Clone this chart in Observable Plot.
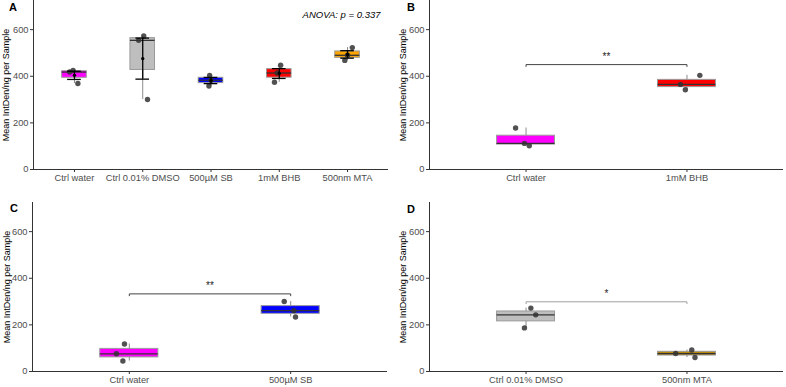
<!DOCTYPE html>
<html>
<head>
<meta charset="utf-8">
<script src="https://cdn.jsdelivr.net/npm/d3@7"></script>
<script src="https://cdn.jsdelivr.net/npm/@observablehq/plot@0.6"></script>
<style>
  html, body { margin: 0; padding: 0; background: #fff; }
  #fig { position: relative; width: 786px; height: 387px; font-family: "Liberation Sans", Arial, sans-serif; }
  .panel { position: absolute; }
  .tag { position: absolute; font-weight: bold; font-size: 11px; color: #000; line-height: 1; }
</style>
</head>
<body>
<div id="fig"></div>
<script>
// Panel A: all five treatments
const groupsA = ["Ctrl water", "Ctrl 0.01% DMSO", "500µM SB", "1mM BHB", "500nm MTA"];
const valuesA = [[418, 425, 369], [554, 573, 300], [404, 358, 383], [447, 374, 414], [523, 468, 490]];
const jitterA = [[-0.07, -0.02, 0.05], [-0.06, 0.015, 0.07], [-0.02, -0.03, 0.0], [0.02, -0.07, -0.03], [0.07, -0.04, 0.0]];
const colorsA = ["#FF00FF", "#BEBEBE", "#0000FF", "#FF0000", "#FFA500"];
const anovaLabel = "ANOVA: p = 0.337";

// Panel B: water vs BHB
const groupsB = ["Ctrl water", "1mM BHB"];
const valuesB = [[178, 112, 102], [365, 342, 404]];
const jitterB = [[-0.065, -0.01, 0.02], [-0.04, -0.01, 0.08]];
const colorsB = ["#FF00FF", "#FF0000"];
const bracketB = {y: 450, label: "**"};

// Panel C: water vs SB
const groupsC = ["Ctrl water", "500µM SB"];
const valuesC = [[118, 76, 45], [300, 261, 234]];
const jitterC = [[-0.03, -0.08, -0.04], [-0.04, 0.02, 0.03]];
const colorsC = ["#FF00FF", "#0000FF"];
const bracketC = {y: 333, label: "**"};

// Panel D: DMSO vs MTA
const groupsD = ["Ctrl 0.01% DMSO", "500nm MTA"];
const valuesD = [[272, 243, 187], [77, 92, 60]];
const jitterD = [[0.03, 0.06, -0.01], [-0.07, 0.03, 0.05]];
const colorsD = ["#BEBEBE", "#B8860B"];
const bracketD = {y: 299, label: "*", stroke: "#a0a0a0"};

const yTicks = [0, 200, 400, 600];
const yTitle = "Mean IntDen/ng per Sample";
const FONT = "'Liberation Sans', Arial, sans-serif";

function summarize(groups, values, colors) {
  return groups.map((g, i) => {
    const v = values[i].slice().sort(d3.ascending);
    const mean = d3.mean(v);
    const se = d3.deviation(v) / Math.sqrt(v.length);
    return {
      pos: i + 1, group: g, color: colors[i],
      q1: d3.quantile(v, 0.25), med: d3.quantile(v, 0.5), q3: d3.quantile(v, 0.75),
      min: d3.min(v), max: d3.max(v), mean, lo: mean - se, hi: mean + se
    };
  });
}

function panel(opts) {
  const {groups, values, jitter, colors, width, height, margin, showMean, bracket, note} = opts;
  const n = groups.length;
  const stats = summarize(groups, values, colors);
  const points = values.flatMap((vs, i) => vs.map((v, j) => ({pos: i + 1, jit: jitter[i][j], v})));
  const half = 0.18;

  const marks = [
    Plot.axisY({ticks: yTicks, tickSize: 3, tickPadding: 2, stroke: "#333", fill: "#4d4d4d", label: null, fontSize: 9.3}),
    Plot.axisY({ticks: [], label: yTitle, labelAnchor: "center", labelArrow: "none", labelOffset: opts.labelOffset, fill: "#000", fontSize: 9}),
    Plot.axisX({ticks: d3.range(1, n + 1), tickFormat: i => groups[i - 1], tickSize: 3, tickPadding: 2, stroke: "#333", fill: "#4d4d4d", label: null, fontSize: 9.3}),
    // whiskers
    Plot.ruleX(stats, {x: "pos", y1: "min", y2: "max", stroke: "#8c8c8c", strokeWidth: 1}),
    // boxes
    Plot.rect(stats, {x1: d => d.pos - half, x2: d => d.pos + half, y1: "q1", y2: "q3", fill: "color", stroke: "#9a9a9a", strokeWidth: 1}),
    // medians
    Plot.ruleY(stats, {x1: d => d.pos - half, x2: d => d.pos + half, y: "med", stroke: "#333", strokeWidth: 1.3}),
    // samples
    Plot.dot(points, {x: d => d.pos + d.jit, y: "v", r: 2.7, fill: "#333", fillOpacity: 0.85, stroke: "none"})
  ];

  if (showMean) {
    marks.push(
      Plot.ruleX(stats, {x: "pos", y1: "lo", y2: "hi", stroke: "#000", strokeWidth: 1.3}),
      Plot.ruleY(stats, {x1: d => d.pos - 0.1, x2: d => d.pos + 0.1, y: "lo", stroke: "#000", strokeWidth: 1.3}),
      Plot.ruleY(stats, {x1: d => d.pos - 0.1, x2: d => d.pos + 0.1, y: "hi", stroke: "#000", strokeWidth: 1.3}),
      Plot.dot(stats, {x: "pos", y: "mean", r: 1.7, fill: "#000", stroke: "none"})
    );
  }

  if (bracket) {
    const drop = 8;
    const path = [{x: 1, y: bracket.y - drop}, {x: 1, y: bracket.y}, {x: 2, y: bracket.y}, {x: 2, y: bracket.y - drop}];
    marks.push(
      Plot.line(path, {x: "x", y: "y", stroke: bracket.stroke || "#444", strokeWidth: 1}),
      Plot.text([bracket], {x: () => 1.5, y: "y", text: "label", dy: -5, lineAnchor: "bottom", fill: "#222", fontSize: 10})
    );
  }

  if (note) {
    marks.push(Plot.text([note], {frameAnchor: "top-right", text: d => d, dx: -8, dy: 11, fontStyle: "italic", fill: "#000", fontSize: 9.5}));
  }

  // axis lines
  marks.push(
    Plot.ruleX([0.4], {stroke: "#333", strokeWidth: 1}),
    Plot.ruleY([0], {stroke: "#333", strokeWidth: 1})
  );

  return Plot.plot({
    width, height,
    marginLeft: margin[0], marginRight: margin[1], marginTop: margin[2], marginBottom: margin[3],
    x: {domain: [0.4, n + 0.6]},
    y: {domain: [0, 725]},
    color: {type: "identity"},
    style: {fontFamily: FONT, fontSize: "9px", background: "transparent", overflow: "visible"},
    marks
  });
}

const fig = document.getElementById("fig");
const layout = [
  {tag: "A", left: 0, top: 0, tagX: 9, tagY: 2, cfg: {groups: groupsA, values: valuesA, jitter: jitterA, colors: colorsA, width: 393, height: 194, margin: [33, 5, 0, 25], showMean: true, note: anovaLabel, labelOffset: 31}},
  {tag: "B", left: 393, top: 0, tagX: 407, tagY: 2, cfg: {groups: groupsB, values: valuesB, jitter: jitterB, colors: colorsB, width: 393, height: 194, margin: [36, 3, 0, 25], bracket: bracketB, labelOffset: 30}},
  {tag: "C", left: 0, top: 194, tagX: 10, tagY: 203, cfg: {groups: groupsC, values: valuesC, jitter: jitterC, colors: colorsC, width: 393, height: 193, margin: [32, 6, 8, 16], bracket: bracketC, labelOffset: 29}},
  {tag: "D", left: 393, top: 194, tagX: 407, tagY: 204, cfg: {groups: groupsD, values: valuesD, jitter: jitterD, colors: colorsD, width: 393, height: 193, margin: [36, 3, 8, 16], bracket: bracketD, labelOffset: 30}}
];

for (const p of layout) {
  const wrap = document.createElement("div");
  wrap.className = "panel";
  wrap.style.left = p.left + "px";
  wrap.style.top = p.top + "px";
  wrap.appendChild(panel(p.cfg));
  fig.appendChild(wrap);
  const t = document.createElement("div");
  t.className = "tag";
  t.style.left = p.tagX + "px";
  t.style.top = p.tagY + "px";
  t.textContent = p.tag;
  fig.appendChild(t);
}
</script>
</body>
</html>
